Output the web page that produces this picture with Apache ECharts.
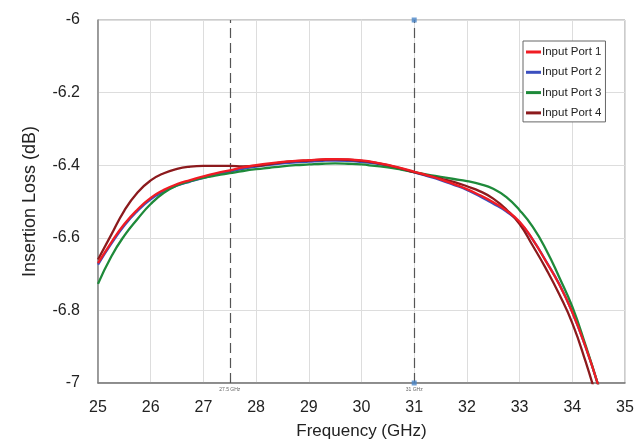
<!DOCTYPE html>
<html>
<head>
<meta charset="utf-8">
<script src="https://cdn.jsdelivr.net/npm/echarts@6/dist/echarts.min.js"></script>
<style>html,body{margin:0;padding:0;background:#fff}#c{width:638px;height:442px}</style>
</head>
<body>
<div id="c"></div>
<script>
const freq = [25,25.25,25.5,25.75,26,26.25,26.5,26.75,27,27.25,27.5,27.75,28,28.25,28.5,28.75,29,29.25,29.5,29.75,30,30.25,30.5,30.75,31,31.25,31.5,31.75,32,32.25,32.5,32.75,33,33.25,33.5,33.75,34,34.25,34.5];
const port1 = [-6.670,-6.613,-6.562,-6.522,-6.490,-6.468,-6.452,-6.441,-6.431,-6.422,-6.414,-6.406,-6.400,-6.395,-6.391,-6.388,-6.386,-6.384,-6.383,-6.384,-6.387,-6.392,-6.399,-6.408,-6.418,-6.428,-6.439,-6.452,-6.466,-6.483,-6.502,-6.525,-6.556,-6.605,-6.665,-6.728,-6.805,-6.900,-7.010];
const port2 = [-6.674,-6.617,-6.566,-6.526,-6.494,-6.472,-6.456,-6.445,-6.435,-6.426,-6.418,-6.410,-6.404,-6.399,-6.395,-6.392,-6.390,-6.388,-6.387,-6.388,-6.391,-6.395,-6.402,-6.410,-6.420,-6.430,-6.441,-6.454,-6.468,-6.486,-6.506,-6.528,-6.558,-6.605,-6.664,-6.727,-6.805,-6.900,-7.010];
const port3 = [-6.727,-6.652,-6.594,-6.548,-6.507,-6.476,-6.456,-6.444,-6.435,-6.428,-6.422,-6.416,-6.411,-6.407,-6.403,-6.400,-6.398,-6.396,-6.395,-6.396,-6.398,-6.402,-6.406,-6.412,-6.419,-6.426,-6.432,-6.438,-6.444,-6.452,-6.465,-6.488,-6.524,-6.570,-6.632,-6.708,-6.790,-6.895,-7.010];
const port4 = [-6.660,-6.592,-6.525,-6.475,-6.442,-6.422,-6.410,-6.404,-6.402,-6.402,-6.402,-6.403,-6.402,-6.397,-6.392,-6.389,-6.387,-6.385,-6.384,-6.385,-6.388,-6.393,-6.400,-6.409,-6.419,-6.428,-6.437,-6.446,-6.458,-6.472,-6.492,-6.522,-6.562,-6.622,-6.685,-6.755,-6.835,-6.940,-7.060];
const seriesNames = ['Input Port 1','Input Port 2','Input Port 3','Input Port 4'];
const xTicks = {min:25,max:35,interval:1};
const yTicks = {min:-7,max:-6,interval:0.2};
const markers = [27.5, 31];
const markerLabels = ['27.5 GHz','31 GHz'];

const colors = ['#f01c24','#3b4fbf','#1e8a3a','#8c1a1d'];
const values = [port1,port2,port3,port4];
const zs = [6,3,4,5];
const FONT = 'Liberation Sans';

const series = values.map((v,i)=>({
  name: seriesNames[i], type:'line', z: zs[i], symbol:'none', smooth:0.5, clip:true,
  lineStyle:{width:2.3,color:colors[i]}, itemStyle:{color:colors[i]},
  data: freq.map((f,j)=>[f,v[j]])
}));
series.push({
  name:'markers', type:'line', data:[], z:2,
  markLine:{
    silent:true, animation:false, symbol:['none','none'],
    lineStyle:{color:'#555',type:[10,5],width:1.2},
    label:{show:true,position:'start',fontSize:5,color:'#666',fontFamily:FONT,distance:4,formatter:p=>p.name},
    data: markers.map((m,i)=>({xAxis:m,name:markerLabels[i]}))
  }
});
series.push({
  name:'cursor', type:'scatter', z:7, symbol:'rect', symbolSize:5, silent:true,
  itemStyle:{color:'#4a86c8'}, data:[[markers[1],yTicks.max],[markers[1],yTicks.min]], clip:false
});

const chart = echarts.init(document.getElementById('c'),null,{renderer:'canvas'});
chart.setOption({
  animation:false,
  backgroundColor:'#fff',
  textStyle:{fontFamily:FONT},
  grid:{left:98,right:13,top:20,bottom:59,show:true,borderColor:'#999',borderWidth:1,containLabel:false,outerBoundsMode:'none'},
  legend:{
    data:seriesNames, orient:'vertical', left:523, top:41,
    backgroundColor:'#fff', borderColor:'#666', borderWidth:1, padding:[5,4,3,3],
    itemWidth:15, itemHeight:3, itemGap:8.3, icon:'rect',
    textStyle:{fontSize:11.5,color:'#222',fontFamily:FONT,padding:[0,0,0,-4]}
  },
  xAxis:{
    type:'value', min:xTicks.min, max:xTicks.max, interval:xTicks.interval,
    name:'Frequency (GHz)', nameLocation:'middle', nameGap:40,
    nameTextStyle:{fontSize:17,color:'#222',fontFamily:FONT},
    axisLine:{lineStyle:{color:'#777',width:1.5}}, axisTick:{show:false},
    axisLabel:{fontSize:16,color:'#222',margin:17,fontFamily:FONT},
    splitLine:{lineStyle:{color:'#ddd',width:1}}
  },
  yAxis:{
    type:'value', min:yTicks.min, max:yTicks.max, interval:yTicks.interval,
    name:'Insertion Loss (dB)', nameLocation:'middle', nameGap:59,
    nameTextStyle:{fontSize:18,color:'#222',fontFamily:FONT},
    axisLine:{show:true,lineStyle:{color:'#888',width:1.5}}, axisTick:{show:false},
    axisLabel:{fontSize:16,color:'#222',margin:18,fontFamily:FONT,formatter:v=>String(+v.toFixed(1))},
    splitLine:{lineStyle:{color:'#ddd',width:1}}
  },
  series
});
</script>
</body>
</html>
